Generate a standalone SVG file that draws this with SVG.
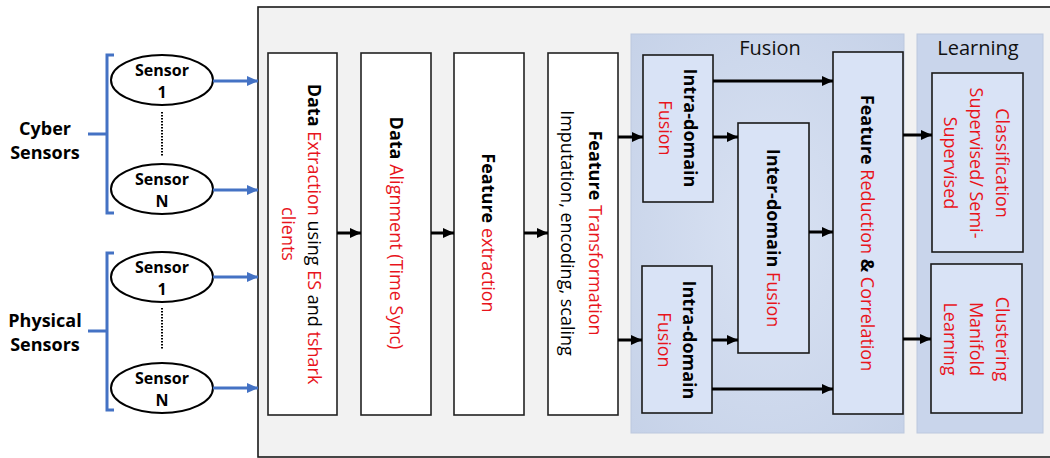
<svg xmlns="http://www.w3.org/2000/svg" width="1050" height="458" viewBox="0 0 1050 458">
<defs>
<radialGradient id="fusionGrad" cx="0.5" cy="0.5" r="0.7">
<stop offset="0" stop-color="#d9e2f3"/>
<stop offset="1" stop-color="#c6d2e8"/>
</radialGradient>
<marker id="ahB" markerUnits="userSpaceOnUse" markerWidth="12" markerHeight="12" refX="11" refY="6" orient="auto">
<path d="M0,1 L11,6 L0,11 Z" fill="#000"/>
</marker>
<marker id="ahBlue" markerUnits="userSpaceOnUse" markerWidth="12" markerHeight="12" refX="11" refY="6" orient="auto">
<path d="M0,1 L11,6 L0,11 Z" fill="#4472c4"/>
</marker>
</defs>
<style>
text{font-family:"Open Sans","Noto Sans","DejaVu Sans",sans-serif;fill:#000;}
.b{font-weight:bold;}
.r{fill:#e8141c;}
.lbl{font-size:18px;font-weight:bold;text-anchor:middle;}
.sen{font-size:16px;font-weight:bold;text-anchor:middle;}
.ttl{font-size:20px;text-anchor:middle;fill:#111;}
.box{fill:#fff;stroke:#222;stroke-width:1.6;}
.fbox{fill:#d9e3f6;stroke:#1a1a1a;stroke-width:1.6;}
.ell{fill:#fff;stroke:#000;stroke-width:2;}
.arr{stroke:#000;stroke-width:3;fill:none;marker-end:url(#ahB);}
.barr{stroke:#4472c4;stroke-width:3;fill:none;marker-end:url(#ahBlue);}
.brk{stroke:#4472c4;stroke-width:3;fill:none;}
.dot{stroke:#000;stroke-width:2;stroke-dasharray:1.5 1.5;}
.vt{text-anchor:middle;font-size:18px;}
</style>

<rect id="frame" x="258" y="7" width="800" height="450" fill="#f2f2f2" stroke="#1a1a1a" stroke-width="1.6"/>
<rect id="fusion-panel" x="631" y="34" width="273" height="399" fill="url(#fusionGrad)" stroke="#bcc8de" stroke-width="1"/>
<rect id="learning-panel" x="917" y="34" width="126" height="399" fill="#c9d5eb" stroke="#bcc8de" stroke-width="1"/>
<text class="ttl" x="770" y="55">Fusion</text>
<text class="ttl" x="978" y="55">Learning</text>

<g id="cyber-label">
<path class="brk" d="M114,55 H107 V213 H114 M88,134 H107"/>
<text class="lbl" x="45" y="135">Cyber</text>
<text class="lbl" x="45" y="159">Sensors</text>
</g>
<g id="physical-label">
<path class="brk" d="M114,253 H107 V410 H114 M88,331 H107"/>
<text class="lbl" x="45" y="327">Physical</text>
<text class="lbl" x="45" y="351">Sensors</text>
</g>

<g id="cyber-sensor-1">
<ellipse class="ell" cx="162" cy="80" rx="51" ry="25"/>
<text class="sen" x="162" y="76">Sensor</text>
<text class="sen" x="162" y="98">1</text>
</g>
<g id="cyber-sensor-n">
<ellipse class="ell" cx="162" cy="189" rx="51" ry="25"/>
<text class="sen" x="162" y="185">Sensor</text>
<text class="sen" x="162" y="207">N</text>
</g>
<g id="physical-sensor-1">
<ellipse class="ell" cx="162" cy="277" rx="51" ry="25"/>
<text class="sen" x="162" y="273">Sensor</text>
<text class="sen" x="162" y="295">1</text>
</g>
<g id="physical-sensor-n">
<ellipse class="ell" cx="162" cy="388" rx="51" ry="25"/>
<text class="sen" x="162" y="384">Sensor</text>
<text class="sen" x="162" y="406">N</text>
</g>

<g id="data-extraction">
<rect class="box" x="268" y="53" width="69" height="362"/>
<text class="vt" transform="translate(301,234) rotate(90)"><tspan x="0" y="-7"><tspan class="b">Data</tspan><tspan class="r"> Extraction</tspan> using <tspan class="r">ES</tspan> and <tspan class="r">tshark</tspan></tspan><tspan x="0" y="19" class="r">clients</tspan></text>
</g>
<g id="data-alignment">
<rect class="box" x="361" y="53" width="70" height="362"/>
<text class="vt" transform="translate(396,233) rotate(90)"><tspan x="0" y="6"><tspan class="b">Data</tspan><tspan class="r"> Alignment (Time Sync)</tspan></tspan></text>
</g>
<g id="feature-extraction">
<rect class="box" x="454" y="53" width="70" height="362"/>
<text class="vt" transform="translate(488,233) rotate(90)"><tspan x="0" y="6"><tspan class="b">Feature</tspan><tspan class="r"> extraction</tspan></tspan></text>
</g>
<g id="feature-transformation">
<rect class="box" x="548" y="53" width="70" height="362"/>
<text class="vt" transform="translate(581,233) rotate(90)"><tspan x="0" y="-8"><tspan class="b">Feature</tspan><tspan class="r"> Transformation</tspan></tspan><tspan x="0" y="20">Imputation, encoding, scaling</tspan></text>
</g>

<g id="intra-domain-top">
<rect class="fbox" x="643" y="55" width="70" height="147"/>
<text class="vt" transform="translate(678,128) rotate(90)"><tspan x="0" y="-6" class="b">Intra-domain</tspan><tspan x="0" y="19" class="r">Fusion</tspan></text>
</g>
<g id="intra-domain-bottom">
<rect class="fbox" x="642" y="266" width="70" height="147"/>
<text class="vt" transform="translate(677,340) rotate(90)"><tspan x="0" y="-6" class="b">Intra-domain</tspan><tspan x="0" y="19" class="r">Fusion</tspan></text>
</g>
<g id="inter-domain">
<rect class="fbox" x="738" y="123" width="71" height="230"/>
<text class="vt" transform="translate(773,238) rotate(90)"><tspan x="0" y="6"><tspan class="b">Inter-domain</tspan><tspan class="r"> Fusion</tspan></tspan></text>
</g>
<g id="feature-reduction">
<rect class="fbox" x="833" y="52" width="70" height="362"/>
<text class="vt" transform="translate(867,233) rotate(90)"><tspan x="0" y="6"><tspan class="b">Feature</tspan><tspan class="r"> Reduction </tspan><tspan class="b">&amp;</tspan><tspan class="r"> Correlation</tspan></tspan></text>
</g>
<g id="classification">
<rect class="fbox" x="932" y="73" width="91" height="179"/>
<text class="vt r" transform="translate(976,163) rotate(90)"><tspan x="0" y="-20">Classification</tspan><tspan x="0" y="6">Supervised/ Semi-</tspan><tspan x="0" y="32">Supervised</tspan></text>
</g>
<g id="clustering">
<rect class="fbox" x="931" y="264" width="91" height="149"/>
<text class="vt r" transform="translate(976,339) rotate(90)"><tspan x="0" y="-20">Clustering</tspan><tspan x="0" y="6">Manifold</tspan><tspan x="0" y="32">Learning</tspan></text>
</g>

<g id="connectors">
<line class="dot" x1="162" y1="112" x2="162" y2="156"/>
<line class="dot" x1="162" y1="308" x2="162" y2="350"/>
<line class="barr" x1="213" y1="81" x2="258" y2="81"/>
<line class="barr" x1="213" y1="190" x2="258" y2="190"/>
<line class="barr" x1="213" y1="277" x2="258" y2="277"/>
<line class="barr" x1="213" y1="388" x2="258" y2="388"/>
<line class="arr" x1="337" y1="233" x2="361" y2="233"/>
<line class="arr" x1="431" y1="233" x2="454" y2="233"/>
<line class="arr" x1="524" y1="233" x2="548" y2="233"/>
<line class="arr" x1="618" y1="137" x2="643" y2="137"/>
<line class="arr" x1="618" y1="340" x2="642" y2="340"/>
<line class="arr" x1="713" y1="81" x2="833" y2="81"/>
<line class="arr" x1="713" y1="137" x2="738" y2="137"/>
<line class="arr" x1="809" y1="232" x2="833" y2="232"/>
<line class="arr" x1="712" y1="340" x2="738" y2="340"/>
<line class="arr" x1="712" y1="389" x2="833" y2="389"/>
<line class="arr" x1="903" y1="135" x2="932" y2="135"/>
<line class="arr" x1="903" y1="339" x2="931" y2="339"/>
</g>
</svg>
